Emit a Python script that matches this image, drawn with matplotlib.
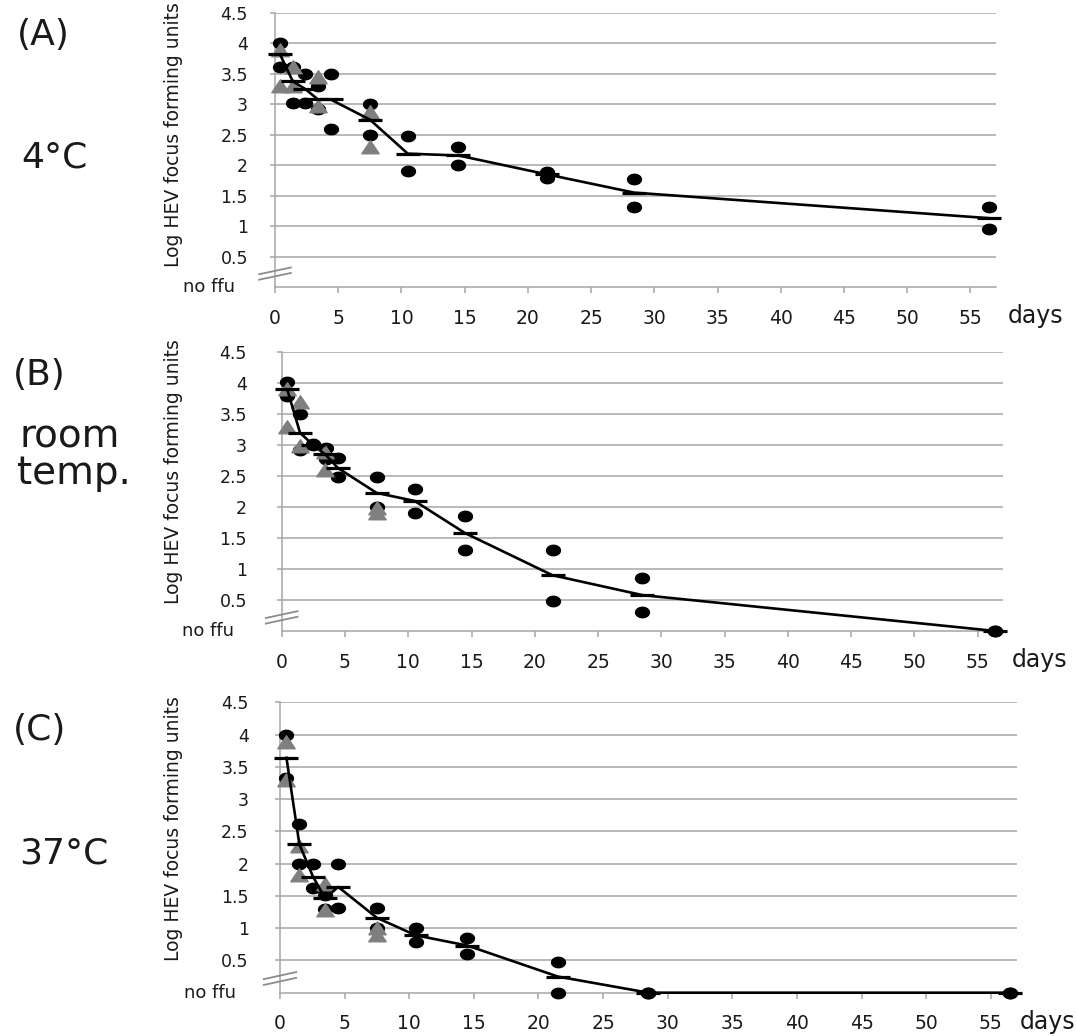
import numpy as np
import matplotlib
matplotlib.use("Agg")
import matplotlib.pyplot as plt
from matplotlib.path import Path
import matplotlib.transforms as mtransforms

# ---------------- data ----------------
panel_tags = ["(A)", "(B)", "(C)"]
panel_conditions = ["4°C", "room\ntemp.", "37°C"]
y_label = "Log HEV focus forming units"
x_unit = "days"
zero_label = "no ffu"
x_ticks = [0, 5, 10, 15, 20, 25, 30, 35, 40, 45, 50, 55]
y_ticks = [0.5, 1, 1.5, 2, 2.5, 3, 3.5, 4, 4.5]
y_tick_labels = ["0.5", "1", "1.5", "2", "2.5", "3", "3.5", "4", "4.5"]

A_circle_day = [0.4, 0.4, 1.4, 1.4, 2.4, 2.4, 3.4, 3.4, 4.4, 4.4, 7.5, 7.5, 10.5, 10.5,
                14.5, 14.5, 21.5, 21.5, 28.4, 28.4, 56.5, 56.5]
A_circle_val = [4.0, 3.62, 3.62, 3.02, 3.5, 3.02, 3.3, 2.93, 3.5, 2.6, 3.0, 2.49, 2.48, 1.91,
                2.3, 2.0, 1.89, 1.79, 1.78, 1.31, 1.31, 0.96]
A_tri_day = [0.4, 0.4, 1.4, 1.4, 3.4, 3.4, 7.5, 7.5]
A_tri_val = [3.9, 3.3, 3.61, 3.3, 3.45, 2.98, 2.87, 2.30]
A_mean_day = [0.4, 1.4, 2.4, 3.4, 4.4, 7.5, 10.5, 14.5, 21.5, 28.4, 56.5]
A_mean_val = [3.82, 3.38, 3.25, 3.08, 3.08, 2.75, 2.19, 2.16, 1.85, 1.55, 1.13]

B_circle_day = [0.44, 0.44, 1.45, 1.45, 2.5, 2.5, 3.5, 3.5, 4.45, 4.45, 7.5, 7.5, 10.5, 10.5,
                14.5, 14.5, 21.4, 21.4, 28.5, 28.5, 56.4, 56.4]
B_circle_val = [4.02, 3.80, 3.50, 2.92, 3.02, 3.0, 2.95, 2.78, 2.80, 2.49, 2.49, 2.0, 2.30, 1.91,
                1.85, 1.31, 1.31, 0.48, 0.85, 0.30, 0.0, 0.0]
B_tri_day = [0.44, 0.44, 1.45, 1.45, 3.45, 3.45, 7.5, 7.5]
B_tri_val = [3.90, 3.30, 3.70, 2.98, 2.89, 2.60, 1.98, 1.90]
B_mean_day = [0.44, 1.45, 2.5, 3.45, 4.45, 7.5, 10.5, 14.5, 21.4, 28.5, 56.4]
B_mean_val = [3.90, 3.20, 3.0, 2.85, 2.63, 2.23, 2.10, 1.58, 0.90, 0.58, 0.0]

C_circle_day = [0.5, 0.5, 1.5, 1.5, 2.55, 2.55, 3.5, 3.5, 4.5, 4.5, 7.5, 7.5, 10.5, 10.5,
                14.5, 14.5, 21.5, 21.5, 28.5, 28.5, 56.5, 56.5]
C_circle_val = [4.0, 3.32, 2.61, 2.0, 2.0, 1.62, 1.51, 1.30, 2.0, 1.31, 1.32, 1.0, 1.0, 0.78,
                0.84, 0.60, 0.48, 0.0, 0.0, 0.0, 0.0, 0.0]
C_tri_day = [0.5, 0.5, 1.5, 1.5, 3.5, 3.5, 7.5, 7.5]
C_tri_val = [3.89, 3.29, 2.27, 1.82, 1.68, 1.28, 1.0, 0.90]
C_mean_day = [0.5, 1.5, 2.55, 3.5, 4.5, 7.5, 10.5, 14.5, 21.5, 28.5, 56.5]
C_mean_val = [3.64, 2.30, 1.80, 1.46, 1.64, 1.16, 0.89, 0.73, 0.25, 0.0, 0.0]

panels = [
    (A_circle_day, A_circle_val, A_tri_day, A_tri_val, A_mean_day, A_mean_val),
    (B_circle_day, B_circle_val, B_tri_day, B_tri_val, B_mean_day, B_mean_val),
    (C_circle_day, C_circle_val, C_tri_day, C_tri_val, C_mean_day, C_mean_val),
]

# ---------------- styling / layout ----------------
W, H = 1076, 1036
plt.rcParams['font.family'] = ['DejaVu Sans']
fig = plt.figure(figsize=(W / 100, H / 100), dpi=100)
fig.patch.set_facecolor('white')

# axes boxes in pixels: left, right, top(4.5), bottom(0)
boxes = [(275, 995.7, 13, 287), (281.7, 1003, 352.3, 631), (280, 1016.7, 702.3, 992.7)]
ytick_pads = [16.0, 21.5, 19.0]
ylabel_pos = [(-0.128, 0.555), (-0.137, 0.573), (-0.132, 0.564)]
zero_label_x = [-0.0916, -0.102, -0.095]
days_pos = [(1008, 323), (1012, 667), (1020, 1029)]
tag_pos = [(43, 45), (39, 385), (40, 740)]
cond_pos = [(54, 167), (70, 447), (64, 864)]
cond_size = [26, 28, 26]

# custom stretched markers
th = np.linspace(0, 2 * np.pi, 41)
ell = Path(np.column_stack([np.cos(th), 0.75 * np.sin(th)]), closed=True)
tri = Path([(-0.58, -0.42), (0.58, -0.42), (0.0, 0.45), (-0.58, -0.42)], closed=True)

grid_col = '#a6a6a6'
tri_col = '#7f7f7f'

for i, (cd, cv, td, tv, md, mv) in enumerate(panels):
    l, r, t, b = boxes[i]
    ax = fig.add_axes([l / W, 1 - b / H, (r - l) / W, (b - t) / H])
    ax.set_xlim(0, 57)
    ax.set_ylim(0, 4.5)
    for s in ['top', 'right']:
        ax.spines[s].set_visible(False)
    for s in ['left', 'bottom']:
        ax.spines[s].set_color(grid_col)
        ax.spines[s].set_linewidth(1.1)
    ax.set_yticks(y_ticks)
    ax.set_yticklabels(y_tick_labels)
    ax.set_xticks(x_ticks)
    ax.tick_params(axis='y', length=3.5, width=1.1, color=grid_col, pad=ytick_pads[i],
                   labelsize=12.5, labelcolor='#1a1a1a')
    ax.tick_params(axis='x', length=4, width=1.1, color=grid_col, pad=11.5,
                   labelsize=13.5, labelcolor='#1a1a1a')
    ax.grid(axis='y', color=grid_col, linewidth=1.1)
    ax.set_axisbelow(True)

    ax.set_ylabel(y_label, fontsize=13.5, color='#1a1a1a')
    ax.yaxis.set_label_coords(*ylabel_pos[i])

    trans = mtransforms.blended_transform_factory(ax.transAxes, ax.transData)
    ax.text(zero_label_x[i], 0, zero_label, transform=trans, ha='center', va='center',
            fontsize=13, color='#1a1a1a')
    # axis break marks
    for off in (0.0, 0.09):
        ax.plot([-0.022, 0.022], [0.12 + off, 0.23 + off], transform=trans, color='#8c8c8c',
                lw=1.3, clip_on=False, zorder=5)

    ax.plot(cd, cv, linestyle='none', marker=ell, markersize=10, color='black', zorder=3,
            clip_on=False)
    ax.plot(td, tv, linestyle='none', marker=tri, markersize=12.5, color=tri_col, zorder=4,
            clip_on=False)
    ax.plot(md, mv, color='black', lw=1.9, marker='_', markersize=17, markeredgewidth=2.3,
            zorder=6, clip_on=False)

    dx, dy = days_pos[i]
    fig.text(dx / W, 1 - dy / H, x_unit, ha='left', va='baseline', fontsize=17,
             color='#1a1a1a')
    tx, ty = tag_pos[i]
    fig.text(tx / W, 1 - ty / H, panel_tags[i], ha='center', va='baseline', fontsize=26,
             color='#1a1a1a')
    cx, cy = cond_pos[i]
    if '\n' in panel_conditions[i]:
        for k, part in enumerate(panel_conditions[i].split('\n')):
            fig.text(cx / W + k * 0.004, 1 - (cy + 37 * k) / H, part, ha='center',
                     va='baseline', fontsize=cond_size[i], color='#1a1a1a')
    else:
        fig.text(cx / W, 1 - cy / H, panel_conditions[i], ha='center', va='baseline',
                 fontsize=cond_size[i], color='#1a1a1a')

fig.savefig('out.png', dpi=100, facecolor='white')
